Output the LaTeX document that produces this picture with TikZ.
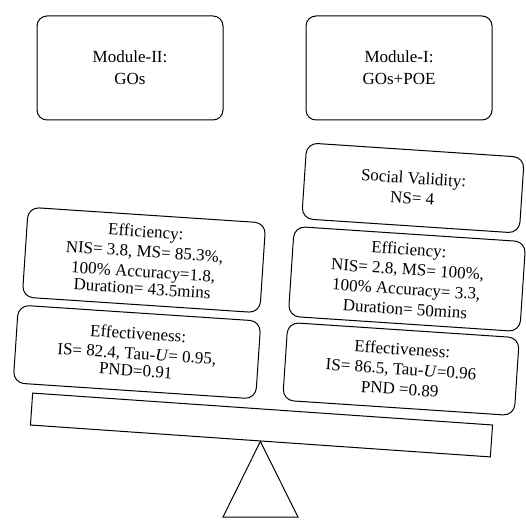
\documentclass[tikz,border=0pt]{standalone}
\usepackage{fontspec}
\setmainfont{Liberation Serif}

\begin{document}
\begin{tikzpicture}[x=1pt, y=1pt,
  modbox/.style={draw, line width=1pt, rounded corners=10pt, align=center,
    minimum width=186pt, minimum height=104pt, font=\fontsize{17}{22}\selectfont},
  resbox/.style={draw, line width=1pt, rounded corners=11pt, align=center,
    rotate=-3.8, inner sep=2pt, font=\fontsize{17}{20}\selectfont}]

\useasboundingbox (0,0) rectangle (526,519);

% --- Modules ---
\node[modbox] (mod2) at (130,451) {Module-II:\\GOs};
\node[modbox] (mod1) at (399,451) {Module-I:\\GOs+POE};

% --- Module-I (droite) ---
\node[resbox, minimum width=218pt, minimum height=76pt] (socR) at (413,331)
  {Social Validity:\\NS= 4};
\node[resbox, minimum width=232pt, minimum height=90pt] (effR) at (407,240)
  {Efficiency:\\NIS= 2.8, MS= 100\%,\\100\% Accuracy= 3.3,\\Duration= 50mins};
\node[resbox, minimum width=232pt, minimum height=78pt] (efvR) at (401,150)
  {Effectiveness:\\IS= 86.5, Tau-\textit{U}=0.96\\PND =0.89};

% --- Module-II (gauche) ---
\node[resbox, minimum width=238pt, minimum height=90pt] (effL) at (144,259)
  {Efficiency:\\NIS= 3.8, MS= 85.3\%,\\100\% Accuracy=1.8,\\[-3pt]Duration= 43.5mins};
\node[resbox, minimum width=243pt, minimum height=78pt] (efvL) at (137,167)
  {Effectiveness:\\IS= 82.4, Tau-\textit{U}= 0.95,\\[-3pt]PND=0.91};

% --- Balance ---
\node[draw, line width=1pt, rotate=-3.97, minimum width=461pt, minimum height=32pt] (beam) at (261.5,94) {};
\draw[line width=1pt] (beam.south) -- (223,2) -- (298,2) -- cycle;

\end{tikzpicture}
\end{document}
